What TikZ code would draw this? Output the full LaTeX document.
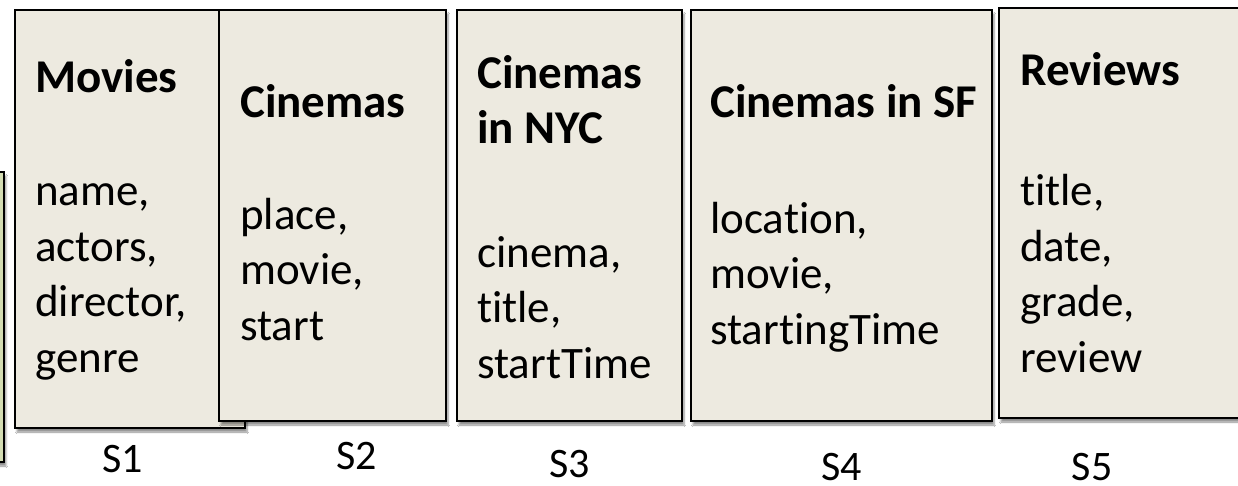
\documentclass[tikz,border=0pt]{standalone}
\usepackage{fontspec}
\setmainfont{Carlito}[Ligatures=NoCommon]
\usetikzlibrary{shadows.blur}
\definecolor{boxfill}{HTML}{EDEAE0}
\definecolor{greenfill}{HTML}{D3DCB2}
\tikzset{
  panel/.style={draw=black, line width=2pt, fill=boxfill, anchor=north west,
    inner sep=0pt, outer sep=0pt,
    blur shadow={shadow xshift=2pt, shadow yshift=-4pt, shadow blur steps=6, shadow opacity=45}},
  % multi-line nodes: the base anchor sits on the last line
  heading/.style={anchor=base west, inner sep=0pt, align=left,
    font=\fontsize{47}{55}\selectfont\bfseries},
  fields/.style={anchor=base west, inner sep=0pt, align=left,
    font=\fontsize{45}{55.5}\selectfont},
  tag/.style={anchor=base, inner sep=0pt, font=\fontsize{42}{50}\selectfont}
}
\begin{document}
\begin{tikzpicture}[x=1pt,y=-1pt]
  \useasboundingbox (0,0) rectangle (1238,485);
  \clip (0,0) rectangle (1238,485);
  \fill[white] (0,0) rectangle (1238,485);

  % partly hidden source on the left edge
  \node[panel, fill=greenfill, minimum width=30pt, minimum height=290pt] (s0) at (-26,172) {};

  % source panels
  \node[panel, minimum width=230pt, minimum height=418pt] (s1) at (15,10) {};
  \node[panel, minimum width=227pt, minimum height=411pt] (s2) at (219,10) {};
  \node[panel, minimum width=225pt, minimum height=411pt] (s3) at (457,10) {};
  \node[panel, minimum width=301pt, minimum height=411pt] (s4) at (691,10) {};
  \node[panel, minimum width=260pt, minimum height=410pt] (s5) at (999,8) {};

  % headings and attributes (positions give the last line's baseline)
  \node[heading] (h1) at (35,92) {Movies};
  \node[fields]  (f1) at (35,372) {name,\\actors,\\director,\\genre};

  \node[heading] (h2) at (240,117) {Cinemas};
  \node[fields]  (f2) at (240,340) {place,\\movie,\\start};

  \node[heading] (h3) at (477,143) {Cinemas\\in NYC};
  \node[fields]  (f3) at (477,378) {cinema,\\title,\\startTime};

  \node[heading] (h4) at (710,117) {Cinemas in SF};
  \node[fields]  (f4) at (710,344) {location,\\movie,\\startingTime};

  \node[heading] (h5) at (1020,85) {Reviews};
  \node[fields]  (f5) at (1020,372) {title,\\date,\\grade,\\review};

  % source labels
  \node[tag] (t1) at (123,472) {S1};
  \node[tag] (t2) at (357,469) {S2};
  \node[tag] (t3) at (570,477) {S3};
  \node[tag] (t4) at (842,480) {S4};
  \node[tag] (t5) at (1092,480) {S5};
\end{tikzpicture}
\end{document}
